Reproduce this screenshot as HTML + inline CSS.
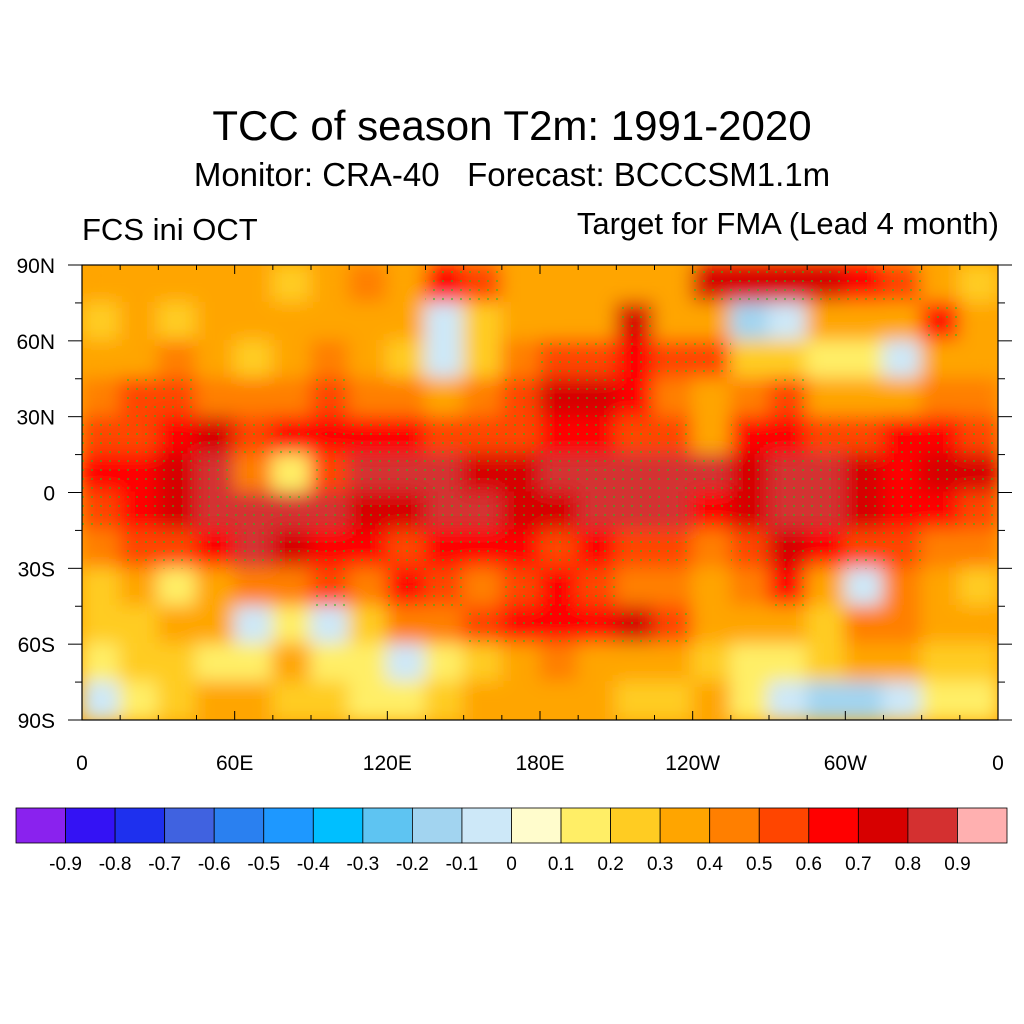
<!DOCTYPE html>
<html><head><meta charset="utf-8"><style>
body{margin:0;background:#fff;}
svg{display:block;font-family:"Liberation Sans",sans-serif;}
</style></head><body>
<svg id="chart" width="1024" height="1024" viewBox="0 0 1024 1024">
<defs>
<filter id="blur" x="0" y="0" width="1" height="1"><feGaussianBlur stdDeviation="9"/></filter>
<clipPath id="mapclip"><rect x="82" y="265" width="916" height="455"/></clipPath>
<pattern id="dots" width="9" height="9" patternUnits="userSpaceOnUse"><circle cx="2" cy="2" r="1.1" fill="#22bb22"/></pattern>
</defs>
<text x="512" y="140" text-anchor="middle" font-size="42">TCC of season T2m: 1991-2020</text>
<text x="512" y="186" text-anchor="middle" font-size="33" xml:space="preserve" style="white-space:pre">Monitor: CRA-40   Forecast: BCCCSM1.1m</text>
<text x="82" y="240" font-size="31">FCS ini OCT</text>
<text x="999" y="234" text-anchor="end" font-size="31">Target for FMA (Lead 4 month)</text>
<g id="map" clip-path="url(#mapclip)">
<rect x="82" y="265" width="916" height="455" fill="#ffa500"/>
<g id="cells" filter="url(#blur)"></g>
<g id="stipple"></g>
</g>
<rect x="82" y="265" width="916" height="455" fill="none" stroke="#000" stroke-width="1.2"/>
<g id="axes"></g>
<g id="colorbar"></g>
</svg>
<script>
const lonLabels=["0","60E","120E","180E","120W","60W","0"];
const latLabels=["90N","60N","30N","0","30S","60S","90S"];
const cbLabels=["-0.9","-0.8","-0.7","-0.6","-0.5","-0.4","-0.3","-0.2","-0.1","0","0.1","0.2","0.3","0.4","0.5","0.6","0.7","0.8","0.9"];
const cbColors=["#8a22ee","#3412f4","#1e30ee","#4062e0","#2a80f0","#1e98ff","#00bfff","#5ec4f2","#a2d4f0","#cde8f8","#fffccc","#ffee66","#ffcc22","#ffa500","#ff7f00","#ff4500","#ff0000","#d70000","#d43030","#ffb0b0"];
const row0=[0.3,0.3,0.3,0.3,0.3,0.2,0.3,0.4,0.3,0.6,0.5,0.3,0.3,0.3,0.3,0.3,0.7,0.7,0.7,0.7,0.6,0.5,0.3,0.2];
const row1=[0.2,0.3,0.2,0.3,0.3,0.3,0.3,0.3,0.3,-0.1,0.2,0.3,0.3,0.3,0.7,0.3,0.3,-0.2,-0.1,0.3,0.3,0.3,0.6,0.3];
const row2=[0.3,0.3,0.4,0.3,0.2,0.3,0.4,0.3,0.2,-0.1,0.2,0.4,0.5,0.5,0.6,0.5,0.5,0.2,0.2,0.1,0.1,-0.1,0.3,0.3];
const row3=[0.4,0.5,0.5,0.4,0.4,0.4,0.5,0.4,0.4,0.3,0.4,0.5,0.7,0.7,0.6,0.4,0.3,0.4,0.5,0.3,0.3,0.3,0.4,0.4];
const row4=[0.5,0.5,0.6,0.7,0.5,0.6,0.6,0.6,0.6,0.5,0.5,0.5,0.6,0.6,0.5,0.5,0.3,0.6,0.6,0.5,0.5,0.6,0.6,0.5];
const row5=[0.6,0.6,0.7,0.8,0.4,0.1,0.5,0.8,0.8,0.8,0.7,0.7,0.8,0.8,0.8,0.8,0.8,0.7,0.8,0.8,0.7,0.6,0.7,0.7];
const row6=[0.5,0.6,0.7,0.8,0.8,0.8,0.8,0.7,0.7,0.8,0.8,0.7,0.7,0.8,0.8,0.8,0.6,0.7,0.8,0.8,0.7,0.6,0.6,0.5];
const row7=[0.4,0.5,0.5,0.6,0.8,0.7,0.6,0.6,0.5,0.6,0.6,0.6,0.5,0.6,0.5,0.5,0.4,0.5,0.7,0.6,0.5,0.5,0.4,0.4];
const row8=[0.2,0.3,0.1,0.3,0.4,0.4,0.5,0.4,0.6,0.5,0.4,0.5,0.6,0.5,0.4,0.4,0.3,0.4,0.6,0.3,-0.1,0.4,0.3,0.2];
const row9=[0.2,0.2,0.3,0.3,-0.1,0.1,-0.1,0.2,0.4,0.4,0.5,0.6,0.6,0.6,0.7,0.5,0.3,0.3,0.3,0.2,0.4,0.4,0.3,0.3];
const row10=[0.1,0.2,0.2,0.1,0.1,0.3,0.1,0.1,-0.1,0.1,0.2,0.3,0.4,0.3,0.3,0.3,0.2,0.1,0.1,0.2,0.3,0.3,0.2,0.2];
const row11=[-0.1,0.1,0.2,0.3,0.3,0.2,0.2,0.1,0.1,0.2,0.3,0.3,0.3,0.3,0.2,0.2,0.3,0.1,-0.1,-0.2,-0.2,-0.1,0.1,0.1];
const grid=[row0,row1,row2,row3,row4,row5,row6,row7,row8,row9,row10,row11];

const NS="http://www.w3.org/2000/svg";
const X0=82,X1=998,Y0=265,Y1=720;
function xLon(lon){return X0+(X1-X0)*lon/360;}
function yLat(lat){return Y0+(Y1-Y0)*(90-lat)/180;}
function colorOf(v){let i=Math.round(v*10)+10;i=Math.max(0,Math.min(19,i));return cbColors[i];}
function mk(tag,attrs,parent){const e=document.createElementNS(NS,tag);for(const k in attrs)e.setAttribute(k,attrs[k]);parent.appendChild(e);return e;}

const cells=document.getElementById('cells');
const stip=document.getElementById('stipple');
const nr=grid.length,nc=grid[0].length;
for(let r=0;r<nr;r++){for(let c=0;c<nc;c++){
  const v=grid[r][c];
  const lon0=c*360/nc,lat0=90-r*180/nr;
  const x=xLon(lon0),y=yLat(lat0),w=xLon(lon0+360/nc)-x,h=yLat(lat0-180/nr)-y;
  const rc=mk('rect',{x:x-1,y:y-1,width:w+2,height:h+2,fill:colorOf(v)},cells);
  
  
  if(v>=0.5){
    const sp=mk('rect',{x:x,y:y,width:w,height:h,fill:'url(#dots)',opacity:0.6},stip);
    
    
  }
}}

const axes=document.getElementById('axes');
lonLabels.forEach((t,i)=>{
  const x=xLon(i*60);
  mk('line',{x1:x,y1:Y1,x2:x,y2:Y1-9,stroke:'#000','stroke-width':1},axes);
  mk('line',{x1:x,y1:Y0,x2:x,y2:Y0+9,stroke:'#000','stroke-width':1},axes);
  const tx=mk('text',{x:x,y:Y1+50,'text-anchor':'middle','font-size':21},axes);tx.textContent=t;
  
  
});
for(let lon=0;lon<=360;lon+=15){if(lon%60){const x=xLon(lon);
  mk('line',{x1:x,y1:Y1,x2:x,y2:Y1-5,stroke:'#000'},axes);mk('line',{x1:x,y1:Y0,x2:x,y2:Y0+5,stroke:'#000'},axes);}}
latLabels.forEach((t,i)=>{
  const y=yLat(90-i*30);
  mk('line',{x1:X0,y1:y,x2:X0-14,y2:y,stroke:'#000'},axes);
  mk('line',{x1:X1,y1:y,x2:X1+14,y2:y,stroke:'#000'},axes);
  const tx=mk('text',{x:55,y:y+8,'text-anchor':'end','font-size':21},axes);tx.textContent=t;
  
  
});
for(let lat=-90;lat<=90;lat+=15){if(lat%30){const y=yLat(lat);
  mk('line',{x1:X0,y1:y,x2:X0-7,y2:y,stroke:'#000'},axes);mk('line',{x1:X1,y1:y,x2:X1+7,y2:y,stroke:'#000'},axes);}}

const cb=document.getElementById('colorbar');
const CX0=16,CX1=1007,CY=808,CH=35,bw=(CX1-CX0)/cbColors.length;
cbColors.forEach((c,i)=>{
  const r=mk('rect',{x:CX0+i*bw,y:CY,width:bw,height:CH,fill:c,stroke:'#000','stroke-width':0.8},cb);
  
  
});
cbLabels.forEach((t,i)=>{
  const tx=mk('text',{x:CX0+(i+1)*bw,y:870,'text-anchor':'middle','font-size':19},cb);tx.textContent=t;
  
  
});
</script>
</body></html>
